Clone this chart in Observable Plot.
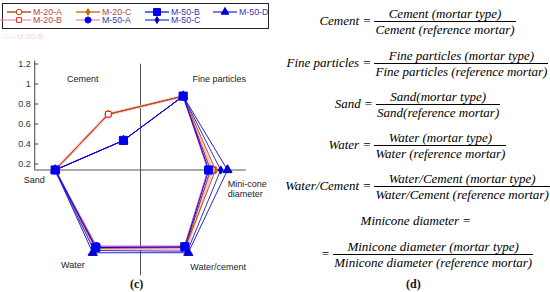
<!DOCTYPE html>
<html><head><meta charset="utf-8">
<script src="https://cdn.jsdelivr.net/npm/d3@7"></script>
<script src="https://cdn.jsdelivr.net/npm/@observablehq/plot@0.6"></script>
<style>
html,body{margin:0;padding:0;background:#fff}
#wrap{position:relative;width:550px;height:292px;overflow:hidden;background:#fff}
#chart{position:absolute;left:0;top:0}
#legend{position:absolute;left:2px;top:3px;width:267px;height:26px;border:1.5px solid #222;box-sizing:border-box}
.li{position:absolute;height:12px;display:flex;align-items:center;font-family:"Liberation Sans",Arial,sans-serif;font-size:8.8px;white-space:nowrap}
.row{position:absolute;left:275px;width:285px;height:30px;display:flex;justify-content:center;align-items:center;font-family:"Liberation Serif",serif;font-style:italic;font-size:13px;color:#000;white-space:nowrap}
.eq{font-style:normal;margin:0 4px}
.frac{display:inline-flex;flex-direction:column;align-items:center}
.frac .n{line-height:13px;padding:0 1px 1px}
.frac .d{line-height:13px;padding:1px 1px 0;border-top:1px solid #000;align-self:stretch;text-align:center}
.cap{position:absolute;font-family:"Liberation Serif",serif;font-weight:bold;font-size:12px;color:#111}
</style></head>
<body>
<div id="wrap">
  <div id="chart"></div>
  <div id="legend"></div>
  <div class="li" style="left:2px;top:30px;color:#f6cfe0;font-size:8px">&#9633;&#8212; M-20-B</div>
  <div id="formulas"></div>
  <div class="cap" style="left:130px;top:277px">(c)</div>
  <div class="cap" style="left:406px;top:277px">(d)</div>
</div>
<script>
// ---- data ----
const axisNames = ["Sand", "Cement", "Fine particles", "Mini-cone\ndiameter", "Water/cement", "Water"];
const axisAngles = [180, 120, 60, 0, 300, 240];
const series = ["M-20-A", "M-20-B", "M-20-C", "M-50-A", "M-50-B", "M-50-C", "M-50-D"];
const sand     = [1, 1, 1, 1, 1, 1, 1];
const cement   = [0.755, 0.755, 0.755, 0.40, 0.40, 0.40, 0.40];
const fine     = [1, 1, 1, 1, 1, 1, 1];
const minicone = [0.82, 0.84, 0.88, 0.79, 0.80, 0.94, 1.02];
const wcRatio  = [1.05, 1.07, 1.05, 1.03, 1.04, 1.10, 1.12];
const water    = [1.04, 1.07, 1.06, 1.03, 1.05, 1.09, 1.12];
const yTicks = [0.2, 0.4, 0.6, 0.8, 1, 1.2];

// ---- styles ----
const lineColors  = ["#993300", "#ffb8d6", "#b35a00", "#cc55cc", "#0000ee", "#3030cc", "#2222dd"];
const lineWidths  = [1, 3, 1, 1, 1, 1, 1];
const markFill    = ["white", "white", "#cc6600", "#0000ee", "#0000ee", "#0000cc", "#0000cc"];
const markStroke  = ["#cc3300", "#ee2222", "#cc6600", "#0000ee", "#0000ee", "#0000cc", "#0000cc"];
const symbols     = ["circle", "square", "diamond", "circle", "square", "diamond", "triangle"];
const radii       = [3.3, 3.2, 2.4, 3.6, 4.6, 2.5, 3.4];
const legendLine  = ["#993300", "#f08aa8", "#b35a00", "#f080c0", "#0000ee", "#3030cc", "#2222dd"];
const textColors  = ["#b8463a", "#b8463a", "#b8463a", "#3535b5", "#3535b5", "#3535b5", "#3535b5"];
const lineOrder = [1, 0, 2, 3, 5, 6, 4];
const dotOrder  = [0, 2, 1, 3, 5, 6, 4];
const labelOffsets = [[-21, 10], [-15, -17], [36, -17], [2, 19], [35, 23], [-25, 21]];

// ---- layout ----
const W = 275, H = 292, PX = 100, CX = 140, CY = 169.5, C0 = 0.14, RU = 0.853, AX = 1.24;
const yAxisX = -AX * RU;

const valuesBy = [sand, cement, fine, minicone, wcRatio, water];
function pt(v, ang) {
  const a = ang * Math.PI / 180;
  return {x: RU * v * Math.cos(a), y: C0 + RU * v * Math.sin(a)};
}
const polys = series.map((s, i) => axisAngles.map((ang, k) => ({...pt(valuesBy[k][i], ang), s})));

const marks = [];
marks.push(Plot.ruleX([0], {y1: C0 - AX * RU, y2: C0 + AX * RU, stroke: "#555", strokeWidth: 1}));
marks.push(Plot.ruleY([C0], {x1: -AX * RU, x2: AX * RU, stroke: "#555", strokeWidth: 1}));
marks.push(Plot.ruleX([yAxisX], {y1: C0, y2: 1.23, stroke: "#444", strokeWidth: 1}));
marks.push(Plot.ruleY(yTicks, {y: d => d, x1: yAxisX, x2: yAxisX + 0.04, stroke: "#444"}));
marks.push(Plot.text(yTicks, {x: yAxisX, y: d => d, text: d => String(d), textAnchor: "end", dx: -4, fill: "#333"}));
axisNames.forEach((n, k) => {
  const p = pt(1, axisAngles[k]);
  marks.push(Plot.text([n], {x: p.x, y: p.y, text: d => d, dx: labelOffsets[k][0], dy: labelOffsets[k][1],
    textAnchor: k === 3 ? "start" : "middle", lineHeight: 1.15, fill: "#222"}));
});
lineOrder.forEach(i => {
  const pts = polys[i].concat([polys[i][0]]);
  marks.push(Plot.line(pts, {x: "x", y: "y", stroke: lineColors[i], strokeWidth: lineWidths[i], curve: "linear"}));
});
dotOrder.forEach(i => {
  marks.push(Plot.dot(polys[i], {x: "x", y: "y", symbol: symbols[i], r: radii[i], fill: markFill[i], stroke: markStroke[i], strokeWidth: 1}));
});

const chart = Plot.plot({
  width: W, height: H,
  marginTop: 0, marginRight: 0, marginBottom: 0, marginLeft: 0,
  x: {domain: [-CX / PX, (W - CX) / PX], range: [0, W], axis: null},
  y: {domain: [C0 - (H - CY) / PX, C0 + CY / PX], range: [H, 0], axis: null},
  style: {fontFamily: "'Liberation Sans', Arial, sans-serif", fontSize: "9px", background: "transparent", overflow: "visible"},
  marks
});
document.getElementById("chart").appendChild(chart);

// ---- legend ----
const legend = document.getElementById("legend");
const colX = [4, 73, 142, 210], rowY = [1.5, 10];
const symMap = {circle: d3.symbolCircle, square: d3.symbolSquare, diamond: d3.symbolDiamond, triangle: d3.symbolTriangle};
series.forEach((s, i) => {
  const col = Math.floor(i / 2), row = i % 2;
  const div = document.createElement("div");
  div.className = "li";
  const sw = i === 1 ? 31 : 24;
  div.style.left = (i === 1 ? colX[col] - 7 : colX[col]) + "px";
  div.style.top = rowY[row] + "px";
  div.style.color = textColors[i];
  const svg = d3.create("svg").attr("width", sw).attr("height", 12).style("overflow", "visible");
  svg.append("line").attr("x1", 0).attr("x2", sw).attr("y1", 6).attr("y2", 6)
    .attr("stroke", legendLine[i]).attr("stroke-width", 1.2);
  const rr = radii[i] * 0.85;
  svg.append("path").attr("transform", `translate(${sw - 12},6)`)
    .attr("d", d3.symbol(symMap[symbols[i]], Math.PI * rr * rr)())
    .attr("fill", markFill[i]).attr("stroke", markStroke[i]).attr("stroke-width", 1);
  div.appendChild(svg.node());
  const t = document.createElement("span");
  t.textContent = s;
  t.style.marginLeft = "2px";
  div.appendChild(t);
  legend.appendChild(div);
});

// ---- formulas ----
const formulas = [
  {label: "Cement", num: "Cement (mortar type)", den: "Cement (reference mortar)", y: 21},
  {label: "Fine particles", num: "Fine particles (mortar type)", den: "Fine particles (reference mortar)", y: 63},
  {label: "Sand", num: "Sand(mortar type)", den: "Sand(reference mortar)", y: 104},
  {label: "Water", num: "Water (mortar type)", den: "Water (reference mortar)", y: 145},
  {label: "Water/Cement", num: "Water/Cement (mortar type)", den: "Water/Cement (reference mortar)", y: 186},
  {label: "", num: "Minicone diameter (mortar type)", den: "Minicone diameter (reference mortar)", y: 254, shift: 8}
];
const fdiv = document.getElementById("formulas");
formulas.forEach(f => {
  const r = document.createElement("div");
  r.className = "row";
  r.style.top = (f.y - 15) + "px";
  if (f.shift) r.style.left = (275 + f.shift) + "px";
  r.innerHTML = (f.label ? `<span>${f.label}</span>` : "") + `<span class="eq">=</span>` +
    `<span class="frac"><span class="n">${f.num}</span><span class="d">${f.den}</span></span>`;
  fdiv.appendChild(r);
});
const mc = document.createElement("div");
mc.className = "row";
mc.style.top = (221 - 15) + "px";
mc.innerHTML = `<span>Minicone diameter</span><span class="eq">=</span>`;
fdiv.appendChild(mc);
</script>
</body></html>
